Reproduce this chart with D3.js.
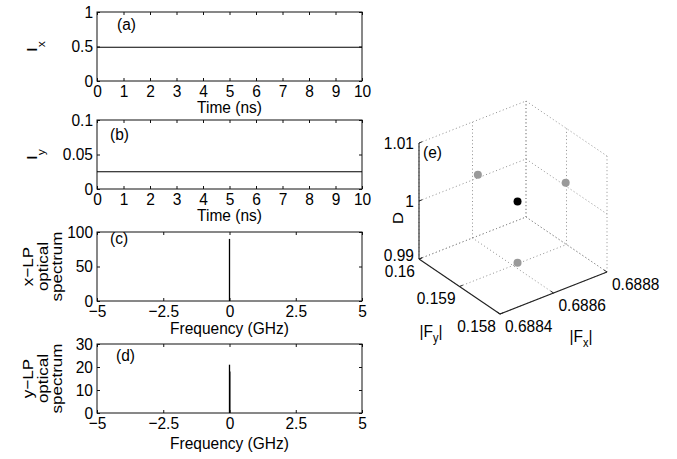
<!DOCTYPE html>
<html>
<head>
<meta charset="utf-8">
<script src="https://cdn.jsdelivr.net/npm/d3@7"></script>
<style>
  body { margin: 0; background: #fff; }
  svg text { font-family: "Liberation Sans", Arial, Helvetica, sans-serif; fill: #000; }
</style>
</head>
<body>
<svg id="fig" width="677" height="459"></svg>
<script>
// ---- time traces (panels a, b) ----
const timeNs = [0, 10];
const intensityX = [0.49, 0.49];
const intensityY = [0.025, 0.025];
const timeTicks = [0, 1, 2, 3, 4, 5, 6, 7, 8, 9, 10];
const ixTicks = [0, 0.5, 1];
const iyTicks = [0, 0.05, 0.1];

// ---- optical spectra (panels c, d): spectral lines as (frequency, power) ----
const freqTicks = [-5, -2.5, 0, 2.5, 5];
const lineFreqX = [0];
const linePowerX = [90];
const lineFreqY = [0, 0.012];
const linePowerY = [21, 18];
const specXTicks = [0, 50, 100];
const specYTicks = [0, 10, 20, 30];

// ---- steady state in (|Fx|, |Fy|, D) space (panel e) ----
const stateFx = [0.68862];
const stateFy = [0.15902];
const stateD = [1.00056];
const fxTicks = [0.6884, 0.6886, 0.6888];
const fyTicks = [0.158, 0.159, 0.16];
const dTicks = [0.99, 1, 1.01];

const svg = d3.select("#fig");
const FS = 15.5;
const STRETCH = 1.1;   // glyphs are drawn slightly tall
const minus = s => String(s).replace("-", "\u2212");

const L = 97, R = 362;

function panel(cfg) {
  const g = svg.append("g");
  const x = d3.scaleLinear().domain(cfg.xDomain).range([L, R]);
  const y = d3.scaleLinear().domain(cfg.yDomain).range([cfg.bottom, cfg.top]);

  const styleAxis = sel => {
    sel.select(".domain").remove();
    sel.selectAll(".tick line").attr("stroke", "#111");
    sel.selectAll("text").attr("font-size", FS).attr("font-family", null).attr("fill", "#000");
  };

  g.append("g").attr("transform", `translate(0,${cfg.bottom})`)
    .call(d3.axisBottom(x).tickValues(cfg.xTicks).tickSize(-3).tickPadding(3.5)
      .tickFormat(d => minus(d)))
    .call(styleAxis);
  g.append("g").attr("transform", `translate(0,${cfg.top})`)
    .call(d3.axisTop(x).tickValues(cfg.xTicks).tickSize(-3).tickFormat(""))
    .call(styleAxis);
  g.append("g").attr("transform", `translate(${L},0)`)
    .call(d3.axisLeft(y).tickValues(cfg.yTicks).tickSize(-3).tickPadding(4)
      .tickFormat(d => String(d)))
    .call(styleAxis);
  g.append("g").attr("transform", `translate(${R},0)`)
    .call(d3.axisRight(y).tickValues(cfg.yTicks).tickSize(-3).tickFormat(""))
    .call(styleAxis);

  g.append("rect")
    .attr("x", L).attr("y", cfg.top)
    .attr("width", R - L).attr("height", cfg.bottom - cfg.top)
    .attr("fill", "none").attr("stroke", "#111").attr("stroke-width", 1);

  cfg.draw(g, x, y);

  // panel tag
  g.append("text").attr("x", cfg.tag[1]).attr("y", cfg.tag[2])
    .attr("font-size", FS).text(cfg.tag[0]);

  // x title
  g.append("text").attr("x", (L + R) / 2).attr("y", cfg.bottom + cfg.xTitleOff)
    .attr("text-anchor", "middle").attr("font-size", FS).text(cfg.xTitle);

  // y title
  cfg.yTitle(g, (cfg.top + cfg.bottom) / 2);
}

function subTitle(g, bx, cy, main, sub) {
  const t = g.append("text").attr("class", "rot")
    .attr("transform", `translate(${bx},${cy}) rotate(-90)`)
    .attr("text-anchor", "middle").attr("font-size", FS);
  t.append("tspan").text(main);
  t.append("tspan").attr("font-size", 11).attr("dy", 8).text(sub);
}

function multiTitle(g, lines, baselines, cy) {
  lines.forEach((s, i) => {
    g.append("text").attr("class", "rot")
      .attr("transform", `translate(${baselines[i]},${cy}) rotate(-90)`)
      .attr("text-anchor", "middle").attr("font-size", FS).text(s);
  });
}

const traceLine = (x, y, ys) => d3.line().x((d, i) => x(timeNs[i])).y(d => y(d))(ys);

panel({
  top: 12, bottom: 81, xDomain: [0, 10], yDomain: [0, 1],
  xTicks: timeTicks, yTicks: ixTicks, tag: ["(a)", 117, 30],
  xTitle: "Time (ns)", xTitleOff: 32,
  draw: (g, x, y) => g.append("path").attr("d", traceLine(x, y, intensityX))
    .attr("fill", "none").attr("stroke", "#000").attr("stroke-width", 1.1),
  yTitle: (g, cy) => subTitle(g, 37, cy, "I", "x")
});

panel({
  top: 120, bottom: 189, xDomain: [0, 10], yDomain: [0, 0.1],
  xTicks: timeTicks, yTicks: iyTicks, tag: ["(b)", 110, 140],
  xTitle: "Time (ns)", xTitleOff: 32,
  draw: (g, x, y) => g.append("path").attr("d", traceLine(x, y, intensityY))
    .attr("fill", "none").attr("stroke", "#000").attr("stroke-width", 1.1),
  yTitle: (g, cy) => subTitle(g, 37, cy, "I", "y")
});

function spectrum(g, x, y, freqs, powers) {
  g.selectAll(null).data(freqs).join("line")
    .attr("x1", d => x(d)).attr("x2", d => x(d))
    .attr("y1", y(0)).attr("y2", (d, i) => y(powers[i]))
    .attr("stroke", "#000").attr("stroke-width", 1.3);
}

panel({
  top: 232, bottom: 301, xDomain: [-5, 5], yDomain: [0, 100],
  xTicks: freqTicks, yTicks: specXTicks, tag: ["(c)", 110, 244],
  xTitle: "Frequency (GHz)", xTitleOff: 33,
  draw: (g, x, y) => spectrum(g, x, y, lineFreqX, linePowerX),
  yTitle: (g, cy) => multiTitle(g, ["x\u2212LP", "optical", "spectrum"], [33, 47.5, 62], cy)
});

panel({
  top: 344, bottom: 413, xDomain: [-5, 5], yDomain: [0, 30],
  xTicks: freqTicks, yTicks: specYTicks, tag: ["(d)", 116, 361],
  xTitle: "Frequency (GHz)", xTitleOff: 36,
  draw: (g, x, y) => spectrum(g, x, y, lineFreqY, linePowerY),
  yTitle: (g, cy) => multiTitle(g, ["y\u2212LP", "optical", "spectrum"], [33, 47.5, 62], cy)
});

// ---- panel (e): oblique 3-D box ----
const u = d3.scaleLinear().domain([0.6884, 0.6888]).range([0, 1]);
const v = d3.scaleLinear().domain([0.158, 0.16]).range([0, 1]);
const w = d3.scaleLinear().domain([0.99, 1.01]).range([0, 1]);
const O = [500, 314], ex = [107, -42], ey = [-81, -55], ez = [0, -116];
function proj(fx, fy, dd) {
  const a = u(fx), b = v(fy), c = w(dd);
  return [O[0] + a * ex[0] + b * ey[0] + c * ez[0],
          O[1] + a * ex[1] + b * ey[1] + c * ez[1]];
}
const [fx0, fx1] = u.domain(), [fy0, fy1] = v.domain(), [d0, d1] = w.domain();

const e = svg.append("g");

// dotted grid on the floor and the two back walls
const grid = [];
fxTicks.forEach(fx => {
  grid.push([proj(fx, fy0, d0), proj(fx, fy1, d0)]);
  grid.push([proj(fx, fy1, d0), proj(fx, fy1, d1)]);
});
fyTicks.forEach(fy => {
  grid.push([proj(fx0, fy, d0), proj(fx1, fy, d0)]);
  grid.push([proj(fx1, fy, d0), proj(fx1, fy, d1)]);
});
dTicks.forEach(dd => {
  grid.push([proj(fx0, fy1, dd), proj(fx1, fy1, dd)]);
  grid.push([proj(fx1, fy1, dd), proj(fx1, fy0, dd)]);
});
e.selectAll(".grid").data(grid).join("line").attr("class", "grid")
  .attr("x1", d => d[0][0]).attr("y1", d => d[0][1])
  .attr("x2", d => d[1][0]).attr("y2", d => d[1][1])
  .attr("stroke", "#909090").attr("stroke-width", 1).attr("stroke-dasharray", "1,2.6");

// solid axes
const axes = [
  [proj(fx0, fy1, d0), proj(fx0, fy1, d1)],
  [proj(fx0, fy0, d0), proj(fx0, fy1, d0)],
  [proj(fx0, fy0, d0), proj(fx1, fy0, d0)]
];
e.selectAll(".ax").data(axes).join("line").attr("class", "ax")
  .attr("x1", d => d[0][0]).attr("y1", d => d[0][1])
  .attr("x2", d => d[1][0]).attr("y2", d => d[1][1])
  .attr("stroke", "#222").attr("stroke-width", 1.1);

// tick marks
const unit = vec => { const n = Math.hypot(vec[0], vec[1]); return [vec[0] / n, vec[1] / n]; };
const tx = unit(ex), ty = unit(ey), TL = 3.5;
const ticks = [];
dTicks.forEach(dd => { const p = proj(fx0, fy1, dd); ticks.push([p, [p[0] + tx[0] * TL, p[1] + tx[1] * TL]]); });
fyTicks.forEach(fy => { const p = proj(fx0, fy, d0); ticks.push([p, [p[0] + tx[0] * TL, p[1] + tx[1] * TL]]); });
fxTicks.forEach(fx => { const p = proj(fx, fy0, d0); ticks.push([p, [p[0] + ty[0] * TL, p[1] + ty[1] * TL]]); });
e.selectAll(".tk").data(ticks).join("line").attr("class", "tk")
  .attr("x1", d => d[0][0]).attr("y1", d => d[0][1])
  .attr("x2", d => d[1][0]).attr("y2", d => d[1][1])
  .attr("stroke", "#222").attr("stroke-width", 1);

// tick labels (the lowest D label sits a little higher to clear the |Fy| labels)
e.selectAll(".dl").data(dTicks).join("text").attr("class", "dl")
  .attr("x", d => proj(fx0, fy1, d)[0] - 5)
  .attr("y", (d, i) => proj(fx0, fy1, d)[1] - (i === 0 ? 4 : 0))
  .attr("dy", "0.35em").attr("text-anchor", "end").attr("font-size", FS)
  .text(d => String(d));
e.selectAll(".fyl").data(fyTicks).join("text").attr("class", "fyl")
  .attr("x", d => proj(fx0, d, d0)[0] - 4).attr("y", d => proj(fx0, d, d0)[1] + 12)
  .attr("dy", "0.35em").attr("text-anchor", "end").attr("font-size", FS)
  .text(d => String(d));
e.selectAll(".fxl").data(fxTicks).join("text").attr("class", "fxl")
  .attr("x", d => proj(d, fy0, d0)[0] + 5).attr("y", d => proj(d, fy0, d0)[1] + 12)
  .attr("dy", "0.35em").attr("text-anchor", "start").attr("font-size", FS)
  .text(d => String(d));

// axis titles
e.append("text").attr("class", "rot").attr("transform", "translate(403,218) rotate(-90)")
  .attr("text-anchor", "middle").attr("font-size", FS).text("D");
function absLabel(cx, by, sub) {
  const t = e.append("text").attr("x", cx).attr("y", by)
    .attr("text-anchor", "middle").attr("font-size", FS);
  t.append("tspan").text("|F");
  t.append("tspan").attr("font-size", 11).attr("dy", 5).text(sub);
  t.append("tspan").attr("dy", -5).text("|");
}
absLabel(431, 337, "y");
absLabel(581, 342, "x");
e.append("text").attr("x", 423).attr("y", 158).attr("font-size", FS).text("(e)");

// projections of the state onto the back planes, then the state itself
const shadows = [];
stateFx.forEach((fx, i) => {
  shadows.push(proj(fx, fy1, stateD[i]));
  shadows.push(proj(fx1, stateFy[i], stateD[i]));
  shadows.push(proj(fx, stateFy[i], d0));
});
e.selectAll(".sh").data(shadows).join("circle").attr("class", "sh")
  .attr("cx", d => d[0]).attr("cy", d => d[1]).attr("r", 4)
  .attr("fill", "#9a9a9a");
e.selectAll(".st").data(stateFx).join("circle").attr("class", "st")
  .attr("cx", (d, i) => proj(d, stateFy[i], stateD[i])[0])
  .attr("cy", (d, i) => proj(d, stateFy[i], stateD[i])[1])
  .attr("r", 4).attr("fill", "#000");

// tall glyphs: stretch every label vertically about its own anchor
svg.selectAll("text").each(function () {
  const t = d3.select(this);
  if (t.classed("rot")) {
    t.attr("transform", t.attr("transform") + ` scale(${STRETCH},1)`);
  } else {
    const x = +(t.attr("x") || 0), y = +(t.attr("y") || 0);
    t.attr("transform", `translate(${x},${y}) scale(1,${STRETCH}) translate(${-x},${-y})`);
  }
});
</script>
</body>
</html>
